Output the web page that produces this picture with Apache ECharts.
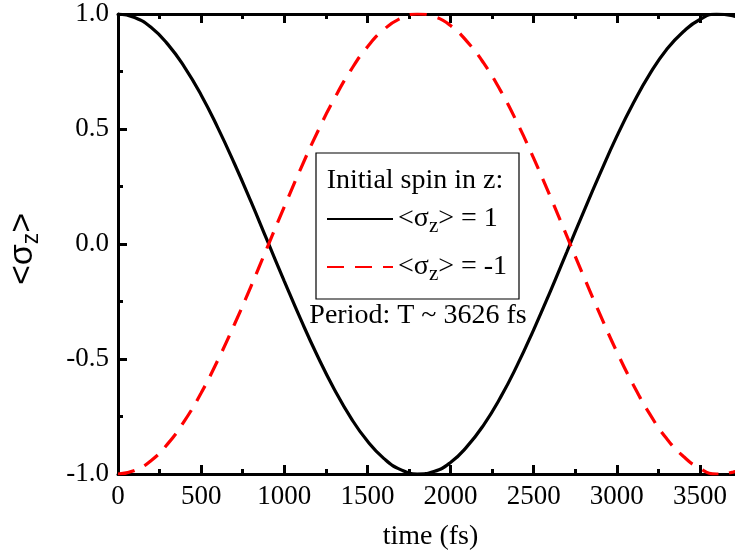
<!DOCTYPE html>
<html><head><meta charset="utf-8">
<script src="https://cdn.jsdelivr.net/npm/echarts@6/dist/echarts.min.js"></script>
<style>html,body{margin:0;padding:0;background:#fff}#c{width:735px;height:554px}</style>
</head><body><div id="c"></div>
<script>
const times = [0,100,200,300,400,500,600,700,800,900,1000,1100,1200,1300,1400,1500,1600,1700,1800,1900,2000,2100,2200,2300,2400,2500,2600,2700,2800,2900,3000,3100,3200,3300,3400,3500,3600,3700,3750];
const spinUp = [1.000,0.985,0.941,0.868,0.769,0.648,0.506,0.350,0.184,0.011,-0.161,-0.329,-0.487,-0.630,-0.755,-0.857,-0.933,-0.981,-1.000,-0.989,-0.950,-0.880,-0.786,-0.668,-0.529,-0.373,-0.207,-0.034,0.139,0.307,0.468,0.613,0.741,0.846,0.923,0.976,1.000,0.992,0.977];
const spinDown = [-1.000,-0.985,-0.941,-0.868,-0.769,-0.648,-0.506,-0.350,-0.184,-0.011,0.161,0.329,0.487,0.630,0.755,0.857,0.933,0.981,1.000,0.989,0.950,0.880,0.786,0.668,0.529,0.373,0.207,0.034,-0.139,-0.307,-0.468,-0.613,-0.741,-0.846,-0.923,-0.976,-1.000,-0.992,-0.977];
const yTicks = ['-1.0','-0.5','0.0','0.5','1.0'];
const nameUp = '<σz> = 1';
const nameDown = '<σz> = -1';

const serif = '"Liberation Serif","DejaVu Serif",serif';
const chart = echarts.init(document.getElementById('c'));
function axisCommon(){
  return {
    axisLine:{show:true,onZero:false,lineStyle:{color:'#000',width:3}},
    axisTick:{show:true,inside:true,length:9,lineStyle:{color:'#000',width:3}},
    minorTick:{show:true,splitNumber:2,length:5,lineStyle:{color:'#000',width:3}},
    splitLine:{show:false}
  };
}
function legendRich(){
  return {
    a:{fontFamily:serif,fontSize:28,color:'#000',lineHeight:32},
    b:{fontFamily:serif,fontSize:21,color:'#000',lineHeight:32,padding:[15,0,0,0]}
  };
}
function legendFmt(n){
  const rest = n.replace('<σz>','');
  return '{a|<σ}{b|z}{a|>' + rest + '}';
}
function makeLegend(name, top){
  return {show:true,data:[name],left:326,top:top,orient:'vertical',itemWidth:66,itemHeight:14,itemGap:0,
    itemStyle:{opacity:0},formatter:legendFmt,textStyle:{rich:legendRich()},padding:0};
}
chart.setOption({
  animation:false,
  grid:{left:118,top:14,width:665,height:460,containLabel:false,outerBoundsMode:'none'},
  xAxis:[
    Object.assign({type:'value',min:0,max:4000,interval:500,
      name:'time (fs)',nameLocation:'middle',nameGap:49,nameMoveOverlap:false,
      nameTextStyle:{fontFamily:serif,fontSize:28,color:'#000',padding:[0,40,0,0]},
      axisLabel:{fontFamily:serif,fontSize:27,color:'#000',margin:9,formatter:function(v){return String(v);}}},axisCommon()),
    Object.assign({type:'value',position:'top',min:0,max:4000,interval:500,
      axisLabel:{show:false}},axisCommon())
  ],
  yAxis:[
    Object.assign({type:'value',min:-1,max:1,interval:0.5,
      name:'{a|<σ}{b|z}{a|>}',nameLocation:'middle',nameRotate:90,nameGap:76,nameMoveOverlap:false,
      nameTextStyle:{padding:[0,10,0,0],rich:{
        a:{fontFamily:'"Liberation Sans",Arial,sans-serif',fontSize:34,color:'#000',lineHeight:38},
        b:{fontFamily:'"Liberation Sans",Arial,sans-serif',fontSize:23,color:'#000',lineHeight:38,padding:[17,0,0,0]}
      }},
      axisLabel:{fontFamily:serif,fontSize:27,color:'#000',margin:9,
        formatter:function(v){const i=Math.round((v+1)/0.5);return yTicks[i];}}},axisCommon()),
    Object.assign({type:'value',position:'right',min:-1,max:1,interval:0.5,axisLabel:{show:false}},axisCommon())
  ],
  legend:[ makeLegend(nameUp,201), makeLegend(nameDown,249) ],
  graphic:[
    {type:'rect',shape:{x:316,y:153,width:203,height:146},style:{fill:'#fff',stroke:'#000',lineWidth:1.2},z:1},
    {type:'text',x:415,y:181,style:{text:'Initial spin in z:',font:'28px '+serif,fill:'#000',textAlign:'center',textVerticalAlign:'middle'},z:2},
    {type:'text',x:418,y:316,style:{text:'Period: T ~ 3626 fs',font:'28px '+serif,fill:'#000',textAlign:'center',textVerticalAlign:'middle'},z:2}
  ],
  series:[
    {name:nameUp,type:'line',smooth:true,symbol:'none',data:times.map((t,i)=>[t,spinUp[i]]),
      lineStyle:{color:'#000',width:3.2},itemStyle:{color:'#000'},z:3},
    {name:nameDown,type:'line',smooth:true,symbol:'none',data:times.map((t,i)=>[t,spinDown[i]]),
      lineStyle:{color:'#ff0000',width:3.2,type:[17,11]},itemStyle:{color:'#ff0000'},z:3}
  ]
});
</script></body></html>
